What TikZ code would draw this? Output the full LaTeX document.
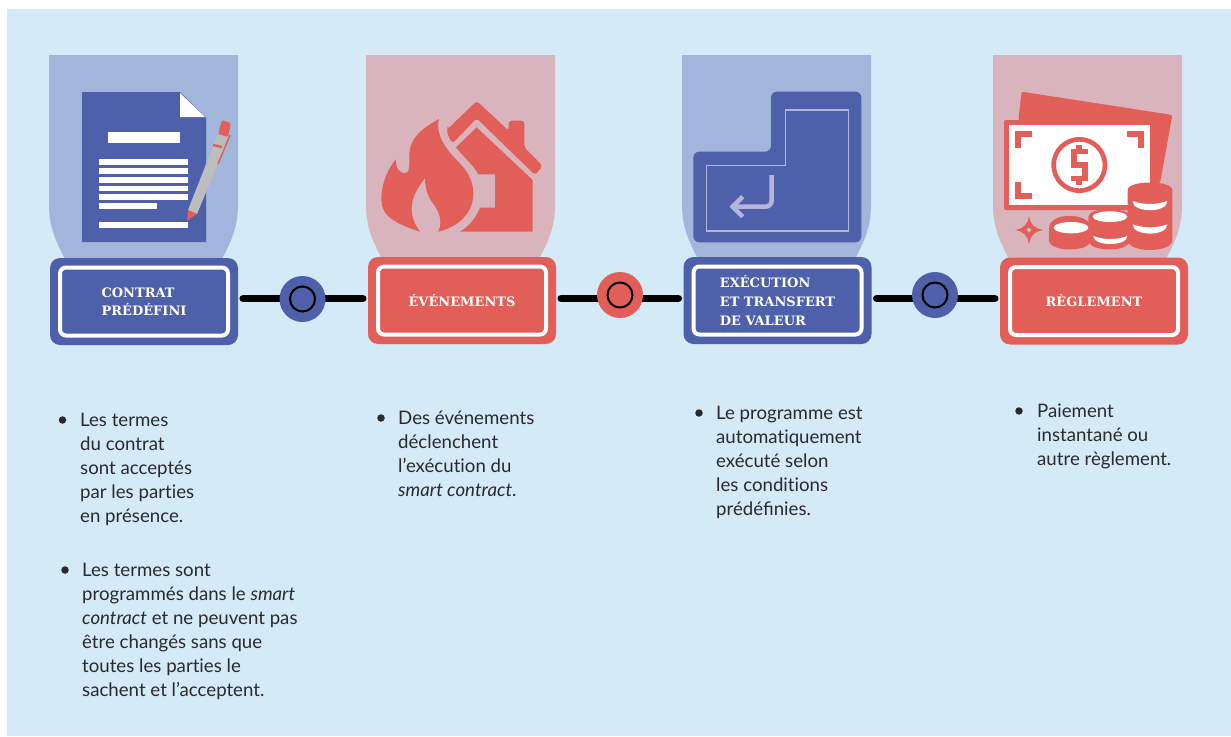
\documentclass[tikz,border=0pt]{standalone}
\usepackage{fontspec}
\setmainfont{Lato}
\newfontfamily\slabfont{DejaVu Serif}
\usetikzlibrary{positioning}
\definecolor{pagebg}{HTML}{D4EAF7}
\definecolor{bleu}{HTML}{4D60A9}
\definecolor{rouge}{HTML}{E25F59}
\definecolor{tabbleu}{HTML}{A2B6DC}
\definecolor{tabrouge}{HTML}{D9B4BC}
\definecolor{stylo}{HTML}{BDBDBD}
\definecolor{touche}{HTML}{B3B6DA}
\definecolor{encre}{HTML}{2A2A2E}
\pgfdeclarelayer{under}
\pgfsetlayers{under,main}

\begin{document}
\begin{tikzpicture}[x=1pt,y=-1pt,
	box/.style={shape=rectangle, rounded corners=10pt, minimum width=188pt, minimum height=87pt, inner sep=0pt},
	frame/.style={shape=rectangle, rounded corners=6pt, draw=white, line width=4pt, minimum width=168pt, minimum height=68pt, inner sep=0pt, text=white, align=left, font=\slabfont\bfseries\fontsize{13}{18.5}\selectfont},
	link/.style={line width=7.5pt, line cap=round, black},
	dot/.style={shape=circle, minimum size=46pt, inner sep=0pt},
	ring/.style={shape=circle, draw=black, line width=2pt, minimum size=25pt, inner sep=0pt},
	para/.style={anchor=north west, inner sep=0pt, align=left, text=encre, font=\fontsize{18.65}{24}\selectfont},
	puce/.style={shape=circle, fill=encre, minimum size=7.5pt, inner sep=0pt}]
\useasboundingbox (0,0) rectangle (1231,736);

\begin{pgfonlayer}{under}
\fill[pagebg] (7,9) rectangle (1231,736);
\foreach \x/\c in {49/tabbleu,366/tabrouge,682/tabbleu,993/tabrouge}
	\fill[\c] (\x,55) -- ++(189,0) -- ++(0,150) .. controls +(0,25) and +(8,-16) .. ++(-17,56) -- ++(-155,0) .. controls +(-8,-16) and +(0,25) .. ++(-17,-56) -- cycle;
\end{pgfonlayer}

% boites
\node [box, fill=bleu] (contrat) at (144,301.5) {};
\node [box, fill=rouge] (evenements) at (462,300.5) {};
\node [box, fill=bleu] (execution) at (777.5,300.5) {};
\node [box, fill=rouge] (reglement) at (1094,301) {};
\node [frame] (contratin) at (contrat) {CONTRAT\\PR\'ED\'EFINI};
\node [frame] (evenementsin) at (evenements) {\'EV\'ENEMENTS};
\node [frame, font=\slabfont\bfseries\fontsize{13}{19}\selectfont] (executionin) at (execution) {EX\'ECUTION\\ET TRANSFERT\\DE VALEUR};
\node [frame] (reglementin) at (reglement) {R\`EGLEMENT};

% liens
\begin{pgfonlayer}{under}
\draw[link] ([xshift=5pt]contrat.east |- 0,298.5) -- ([xshift=-5pt]evenements.west |- 0,298.5);
\draw[link] ([xshift=5pt]evenements.east |- 0,298.5) -- ([xshift=-5pt]execution.west |- 0,298.5);
\draw[link] ([xshift=5pt]execution.east |- 0,298.5) -- ([xshift=-5pt]reglement.west |- 0,298.5);
\end{pgfonlayer}
\node [dot, fill=bleu] (dota) at (302.5,299) {};
\node [dot, fill=rouge] (dotb) at (620,295) {};
\node [dot, fill=bleu] (dotc) at (935,295) {};
\node [ring] (ringa) at (dota) {};
\node [ring] (ringb) at (dotb) {};
\node [ring] (ringc) at (dotc) {};

% contrat
\fill[bleu] (82,92) -- (180,92) -- (206,118) -- (206,242) -- (82,242) -- cycle;
\fill[white] (180,93) -- (205,117) -- (180,117) -- cycle;
\fill[white] (108,132) rectangle (180,143);
\foreach \y in {159,168,177,185.5,194}
	\fill[white] (99,\y) rectangle (188,\y+5.5);
\fill[white] (99,203) rectangle (157,209);
\fill[white] (99,222) rectangle (188,228);
\fill[stylo] (188,210) -- (218,134) -- (229,137) -- (197,214) -- cycle;
\fill[rouge] (187,221) -- (188,210) -- (197,214) -- cycle;
\fill[rouge, rounded corners=2pt] (218,134) -- (222,120) -- (231,123) -- (228,137) -- cycle;
\draw[rouge, line width=1.5pt] (218,164) -- (230,135);
\draw[rouge, line width=2.5pt] (213,145) -- (222,147);

% feu et maison
\begin{scope}[shift={(350,40)},scale=1/3]
\fill[rouge] (210,575) .. controls (100,540) and (94,510) .. (94,470) .. controls (95,430) and (115,385) .. (137,358) .. controls (137,385) and (150,400) .. (165,400) .. controls (180,400) and (178,370) .. (178,345) .. controls (178,290) and (225,260) .. (267,237) .. controls (255,285) and (290,330) .. (320,360) .. controls (350,390) and (370,420) .. (370,460) .. controls (370,530) and (310,565) .. (265,575) .. controls (280,540) and (265,510) .. (245,485) .. controls (235,470) and (225,445) .. (225,415) .. controls (205,440) and (185,470) .. (185,505) .. controls (185,540) and (200,560) .. (210,575) -- cycle;
\fill[rouge, rounded corners=3pt] (292,268) -- (380,183) -- (476,272) -- (476,242) -- (523,242) -- (523,322) -- (578,378) -- (555,405) -- (380,235) -- (308,310) .. controls (298,295) and (292,282) .. (292,268) -- cycle;
\fill[rouge] (380,262) -- (548,420) -- (548,575) -- (330,575) .. controls (355,560) and (378,535) .. (390,503) -- (435,503) -- (435,403) -- (385,403) .. controls (370,375) and (335,345) .. (318,322) -- cycle;
\end{scope}

% touche entree
\begin{scope}[shift={(670,40)},scale=1/3]
\fill[bleu, rounded corners=6pt] (303,155) -- (574,155) -- (574,607) -- (70,607) -- (70,335) -- (303,335) -- cycle;
\draw[touche, line width=1.4pt] (347,210) -- (535,210) -- (535,573) -- (110,573) -- (110,377) -- (347,377) -- cycle;
\draw[touche, line width=4.5pt, rounded corners=6pt] (305,405) -- (305,500) -- (190,500);
\draw[touche, line width=4.5pt] (218,470) -- (188,500) -- (218,530);
\end{scope}

% billets et pieces
\begin{scope}[shift={(970,40)},scale=1/3]
\fill[rouge, rounded corners=2pt] (155,155) -- (607,225) -- (570,430) -- (400,500) -- (145,240) -- cycle;
\fill[rouge, rounded corners=2pt] (102,240) rectangle (555,510);
\fill[white] (117,256) rectangle (540,495);
\draw[rouge, line width=6pt] (144,325) -- (144,282) -- (186,282);
\draw[rouge, line width=6pt] (472,282) -- (514,282) -- (514,325);
\draw[rouge, line width=6pt] (144,426) -- (144,468) -- (186,468);
\fill[rouge, even odd rule] (328,375) circle [radius=84] (328,375) circle [radius=70];
\draw[rouge, line width=5.5pt] (355,335) -- (312,335) -- (312,375) -- (345,375) -- (345,415) -- (303,415);
\draw[rouge, line width=6pt] (328,316) -- (328,335) (328,415) -- (328,435);
\fill[rouge] (473,450) .. controls (473,420) and (607,420) .. (607,450) -- (607,600) .. controls (607,640) and (473,640) .. (473,600) -- cycle;
\fill[white] (488,483) .. controls (520,495) and (560,495) .. (592,483) .. controls (592,520) and (488,520) .. (488,483) -- cycle;
\fill[white] (488,553) .. controls (520,565) and (560,565) .. (592,553) .. controls (592,590) and (488,590) .. (488,553) -- cycle;
\fill[rouge] (355,530) .. controls (355,500) and (480,500) .. (480,530) -- (480,600) .. controls (480,638) and (355,638) .. (355,600) -- cycle;
\fill[white] (420,530) ellipse [x radius=52, y radius=16];
\fill[white] (370,588) .. controls (400,600) and (442,600) .. (472,588) .. controls (472,620) and (370,620) .. (370,588) -- cycle;
\fill[rouge] (237,565) .. controls (237,515) and (362,515) .. (362,565) -- (362,600) .. controls (362,638) and (237,638) .. (237,600) -- cycle;
\fill[white] (303,563) ellipse [x radius=52, y radius=17];
\fill[rouge] (177,528) .. controls (182,555) and (192,565) .. (220,570) .. controls (192,575) and (182,585) .. (177,613) .. controls (172,585) and (162,575) .. (135,570) .. controls (162,565) and (172,555) .. (177,528) -- cycle;
\fill[tabrouge] (177,562) -- (185,570) -- (177,578) -- (169,570) -- cycle;
\end{scope}

% textes
\node [para] (termes) at (80,413) {Les termes\\du contrat\\sont accept\'es\\par les part\/ies\\en pr\'esence.};
\node [para] (programme) at (82,563) {Les termes sont\\programm\'es dans le \textit{smart}\\\textit{contract} et ne peuvent pas\\\^etre chang\'es sans que\\toutes les part\/ies le\\sachent et l’acceptent.};
\node [para] (declenche) at (398,411) {Des \'ev\'enements\\d\'eclenchent\\l’ex\'ecut\/ion du\\\textit{smart contract}.};
\node [para] (auto) at (716,406) {Le programme est\\automat\/iquement\\ex\'ecut\'e selon\\les condit\/ions\\pr\'ed\'efinies.};
\node [para] (paiement) at (1037,404) {Paiement\\instantan\'e ou\\autre r\`eglement.};
\node [puce] (pucea) at (62.5,420) {};
\node [puce] (puceb) at (65,570) {};
\node [puce] (pucec) at (381,418) {};
\node [puce] (puced) at (699,413) {};
\node [puce] (pucee) at (1019,411) {};
\end{tikzpicture}
\end{document}
